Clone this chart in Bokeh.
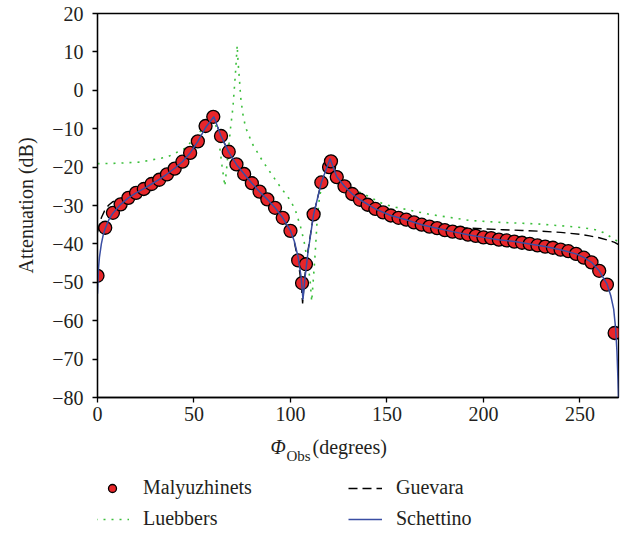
from bokeh.plotting import figure
from bokeh.layouts import column
from bokeh.models import Legend, LegendItem, Label, FixedTicker, Range1d
from bokeh.embed import file_html
from bokeh.resources import INLINE

# ---------------- data ----------------
mal_x = [0, 4, 8, 12, 16, 20, 24, 28, 32, 36, 40, 44, 48, 52, 56, 60, 64, 68, 72, 76,
         80, 84, 88, 92, 96, 100, 104, 106, 108, 112, 116, 120, 121, 124, 128, 132, 136,
         140, 144, 148, 152, 156, 160, 164, 168, 172, 176, 180, 184, 188, 192, 196, 200,
         204, 208, 212, 216, 220, 224, 228, 232, 236, 240, 244, 248, 252, 256, 260, 264, 268]
mal_y = [-48.3, -35.8, -31.9, -29.7, -28.0, -26.7, -25.7, -24.4, -23.3, -21.9, -20.4, -18.6,
         -16.3, -13.3, -9.3, -6.9, -11.9, -16.0, -19.3, -21.8, -24.2, -26.4, -28.4, -30.6,
         -33.2, -36.6, -44.3, -50.2, -45.3, -32.3, -24.0, -20.0, -18.5, -22.6, -25.0, -27.0,
         -28.5, -29.8, -30.9, -31.8, -32.6, -33.2, -33.7, -34.4, -35.0, -35.5, -35.9, -36.4,
         -36.8, -37.1, -37.6, -37.9, -38.3, -38.5, -38.9, -39.1, -39.4, -39.7, -40.0, -40.4,
         -40.7, -41.0, -41.5, -41.9, -42.6, -43.6, -44.8, -47.0, -50.6, -63.2]

lue_x = [0, 10, 22, 36, 45, 52, 56, 58.5, 60, 61.5, 63, 64.5, 66, 66.6, 67.8, 69, 70.2,
         71.6, 72.4, 72.9, 73.6, 74.2, 75.3, 76.7, 80.2, 85.4, 89.7, 94.8, 100, 102.6,
         105.2, 107, 109, 110.2, 111, 111.8, 112.9, 113.8, 115, 117, 121, 125, 131, 138,
         148, 155, 172, 193, 209, 228, 243, 252, 258, 262, 266, 268, 270]
lue_y = [-19.1, -19.0, -18.7, -17.4, -15.2, -11.7, -8.6, -6.5, -6.8, -9.5, -13.5, -19.5,
         -25.0, -22.0, -15.7, -9.6, -4.4, 5.2, 11.7, 7.0, 2.6, -1.8, -6.1, -9.6, -13.9,
         -18.3, -21.5, -25.2, -28.7, -31.3, -35.5, -39.2, -45.0, -49.6, -55.0, -49.6,
         -41.8, -34.0, -28.0, -23.0, -19.3, -22.5, -25.5, -27.0, -29.6, -30.5, -32.3,
         -33.9, -34.4, -34.8, -35.4, -35.8, -36.3, -37.0, -38.2, -38.8, -39.6]

gue_x = [0, 1, 2, 4, 6, 8, 12, 16, 20, 24, 28, 32, 36, 40, 44, 48, 52, 56, 60.3, 64, 68,
         72, 76, 80, 84, 88, 92, 96, 100, 102, 104, 105.5, 106.3, 107.3, 109, 112, 116,
         120.5, 124, 128, 132, 136, 140, 150, 160, 170, 180, 190, 200, 210, 220, 230,
         240, 250, 255, 260, 265, 268, 270]
gue_y = [-37.0, -35.0, -33.2, -31.0, -29.8, -29.0, -28.2, -27.3, -26.4, -25.5, -24.4,
         -23.2, -21.8, -20.3, -18.6, -16.3, -13.3, -9.7, -6.9, -11.9, -16.1, -19.3, -21.8,
         -24.2, -26.4, -28.4, -30.6, -33.4, -36.8, -39.5, -44.5, -50.0, -55.5, -49.0,
         -42.0, -32.3, -24.0, -17.9, -22.5, -25.0, -26.9, -28.4, -29.6, -31.8, -33.2,
         -34.5, -35.3, -35.8, -36.1, -36.3, -36.5, -36.7, -37.0, -37.5, -37.9, -38.4,
         -39.1, -39.6, -40.2]

sch_x = [0, 0.5, 1, 2, 3, 4, 6, 8, 12, 16, 20, 24, 28, 32, 36, 40, 44, 48, 52, 56, 60.3,
         64, 68, 72, 76, 80, 84, 88, 92, 96, 100, 102, 104, 105.5, 106.5, 107.5, 109, 112,
         116, 120.5, 124, 128, 132, 136, 144, 152, 160, 168, 176, 184, 192, 200, 208, 216,
         224, 232, 240, 248, 252, 256, 260, 264, 266, 267.5, 268.5, 269.2, 269.7, 270]
sch_y = [-53.0, -46.5, -43.5, -40.0, -37.6, -36.0, -33.6, -32.0, -29.7, -28.0, -26.7,
         -25.6, -24.4, -23.2, -21.8, -20.3, -18.6, -16.3, -13.3, -9.7, -6.9, -11.9, -16.1,
         -19.3, -21.8, -24.2, -26.4, -28.4, -30.6, -33.2, -36.6, -39.3, -43.5, -48.5,
         -54.5, -49.0, -42.5, -32.3, -24.0, -17.8, -22.5, -25.0, -27.0, -28.5, -30.9,
         -32.6, -33.7, -35.0, -35.9, -36.8, -37.6, -38.3, -38.9, -39.4, -40.0, -40.7,
         -41.5, -42.6, -43.5, -44.8, -47.0, -50.4, -53.5, -57.0, -62.0, -68.0, -75.0, -80.0]

x_ticks = [0, 50, 100, 150, 200, 250]
x_tick_labels = ["0", "50", "100", "150", "200", "250"]
y_ticks = [-80, -70, -60, -50, -40, -30, -20, -10, 0, 10, 20]
y_tick_labels = ["\u221280", "\u221270", "\u221260", "\u221250", "\u221240", "\u221230",
                 "\u221220", "\u221210", "0", "10", "20"]

series_names = ["Malyuzhinets", "Luebbers", "Guevara", "Schettino"]
y_axis_title = "Attenuation (dB)"
x_title_symbol = "\u03a6"
x_title_sub = "Obs"
x_title_unit = "(degrees)"

FONT = "Liberation Serif"
TXT = "#231f20"

MAL_STYLE = dict(size=13, fill_color="#e8262a", line_color="black", line_width=1.3)
LUE_STYLE = dict(line_color="#3cbf3c", line_width=1.6, line_dash="2 6")
GUE_STYLE = dict(line_color="black", line_width=1.4, line_dash="9 5")
SCH_STYLE = dict(line_color="#3a4ea3", line_width=1.5)

# ---------------- main plot ----------------
p = figure(width=620, height=430, x_range=Range1d(0, 270), y_range=Range1d(-80, 20),
           output_backend="svg", toolbar_location=None,
           min_border_left=97, min_border_right=2, min_border_top=13, min_border_bottom=33)
p.xgrid.visible = False
p.ygrid.visible = False
p.outline_line_color = "black"
p.outline_line_width = 1.3
p.background_fill_color = "white"
p.border_fill_color = "white"

for ax in (p.xaxis[0], p.yaxis[0]):
    ax.axis_line_width = 1.3
    ax.axis_line_color = "black"
    ax.major_tick_line_width = 1.3
    ax.major_tick_line_color = "black"
    ax.major_tick_out = 5
    ax.major_tick_in = 0
    ax.minor_tick_out = 0
    ax.minor_tick_in = 0
    ax.major_label_text_font = FONT
    ax.major_label_text_font_size = "20px"
    ax.major_label_text_color = TXT

p.xaxis[0].ticker = FixedTicker(ticks=x_ticks)
p.xaxis[0].major_label_overrides = {float(t): s for t, s in zip(x_ticks, x_tick_labels)}
p.xaxis[0].major_label_standoff = 4
p.yaxis[0].ticker = FixedTicker(ticks=y_ticks)
p.yaxis[0].major_label_overrides = {float(t): s for t, s in zip(y_ticks, y_tick_labels)}
p.yaxis[0].major_label_standoff = 9
p.yaxis[0].axis_label = y_axis_title
p.yaxis[0].axis_label_text_font = FONT
p.yaxis[0].axis_label_text_font_size = "20px"
p.yaxis[0].axis_label_text_font_style = "normal"
p.yaxis[0].axis_label_text_color = TXT
p.yaxis[0].axis_label_standoff = 12

p.line(lue_x, lue_y, **LUE_STYLE)
p.line(gue_x, gue_y, **GUE_STYLE)
p.scatter(mal_x, mal_y, **MAL_STYLE)
p.line(sch_x, sch_y, **SCH_STYLE)

# ---------------- strip below: x-axis title and legend ----------------
# its frame is aligned with the main frame; x units here are page pixels
q = figure(width=620, height=103, x_range=Range1d(97, 618), y_range=Range1d(0, 103),
           output_backend="svg", toolbar_location=None,
           x_axis_location=None, y_axis_location=None,
           min_border_left=97, min_border_right=2, min_border_top=0, min_border_bottom=0)
q.xgrid.visible = False
q.ygrid.visible = False
q.outline_line_color = None
q.background_fill_color = "white"
q.border_fill_color = "white"

q.add_layout(Label(x=270, y=87, text=x_title_symbol, text_font=FONT,
                   text_font_size="20px", text_font_style="italic",
                   text_color=TXT, text_baseline="alphabetic"))
q.add_layout(Label(x=286, y=78, text=x_title_sub, text_font=FONT,
                   text_font_size="15px", text_color=TXT, text_baseline="alphabetic"))
q.add_layout(Label(x=312, y=87, text=x_title_unit, text_font=FONT,
                   text_font_size="20px", text_color=TXT, text_baseline="alphabetic"))

# hidden copies of the series, used only as legend keys
k_mal = q.scatter(mal_x, mal_y, visible=False, **MAL_STYLE)
k_lue = q.line(lue_x, lue_y, visible=False, **LUE_STYLE)
k_gue = q.line(gue_x, gue_y, visible=False, **GUE_STYLE)
k_sch = q.line(sch_x, sch_y, visible=False, **SCH_STYLE)

legend = Legend(items=[LegendItem(label=series_names[0], renderers=[k_mal]),
                       LegendItem(label=series_names[1], renderers=[k_lue]),
                       LegendItem(label=series_names[2], renderers=[k_gue]),
                       LegendItem(label=series_names[3], renderers=[k_sch])],
                location=(-2, 3), orientation="vertical", ncols=2,
                glyph_width=34, glyph_height=20, label_height=20, label_width=197,
                label_standoff=14, spacing=8, padding=0, margin=0,
                border_line_alpha=0, background_fill_alpha=0,
                inactive_fill_alpha=0,
                label_text_font=FONT, label_text_font_size="20px", label_text_color=TXT)
q.add_layout(legend)

open("out.html", "w").write(file_html(column(p, q, spacing=0), INLINE))
